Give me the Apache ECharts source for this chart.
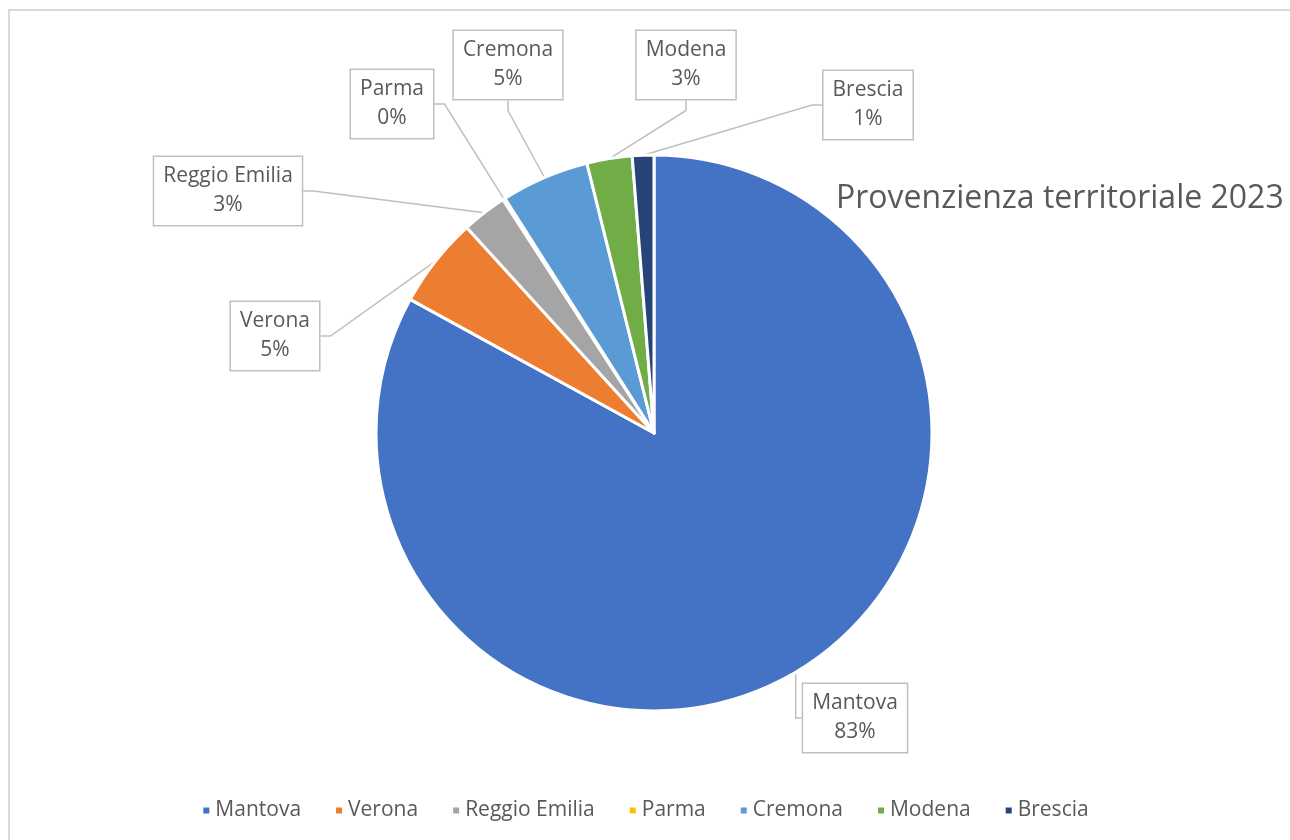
<!DOCTYPE html>
<html>
<head>
<meta charset="utf-8">
<script src="https://cdn.jsdelivr.net/npm/echarts@6/dist/echarts.min.js"></script>
<style>
  html, body { margin: 0; padding: 0; background: #fff; overflow: hidden; }
  #frame {
    position: absolute; left: 8px; top: 9px;
    width: 1400px; height: 1000px;
    border: 2px solid #d9d9d9;
  }
  #chart { position: absolute; left: 0; top: 0; width: 1290px; height: 840px; }
</style>
</head>
<body>
<div id="frame"></div>
<div id="chart"></div>
<script>
// data
const provinces = ['Mantova', 'Verona', 'Reggio Emilia', 'Parma', 'Cremona', 'Modena', 'Brescia'];
const counts = [663, 42, 21, 1, 41, 21, 10];

const sliceColors = [
  '#4472c4', // Mantova
  '#ed7d31', // Verona
  '#a5a5a5', // Reggio Emilia
  '#ffc000', // Parma
  '#5b9bd5', // Cremona
  '#70ad47', // Modena
  '#264478'  // Brescia
];

// callout box centres, as placed in the original
const labelAt = [
  [855, 718],
  [275, 336],
  [228, 191],
  [392, 104],
  [508, 65],
  [686, 65],
  [868, 105]
];

const textGray = '#595959';
const chartFont = 'Open Sans';

const chart = echarts.init(document.getElementById('chart'));

const option = {
  color: sliceColors,
  animation: false,
  title: {
    text: 'Provenzienza territoriale 2023',
    left: 831,
    top: 178,
    textStyle: {
      color: textGray,
      fontSize: 32,
      fontWeight: 'normal',
      fontFamily: chartFont
    }
  },
  legend: {
    bottom: 14,
    left: 'center',
    icon: 'rect',
    itemWidth: 8,
    itemHeight: 8,
    itemGap: 33,
    textStyle: {
      color: textGray,
      fontSize: 21,
      fontFamily: chartFont
    },
    data: provinces
  },
  series: [
    {
      type: 'pie',
      center: [654, 433],
      radius: 278,
      startAngle: 90,
      clockwise: true,
      avoidLabelOverlap: false,
      data: provinces.map((name, i) => ({ name: name, value: counts[i] })),
      itemStyle: {
        borderColor: '#fff',
        borderWidth: 3
      },
      label: {
        show: true,
        position: 'outside',
        formatter: p => p.name + '\n' + Math.round(p.percent) + '%',
        color: textGray,
        fontSize: 21,
        fontFamily: chartFont,
        lineHeight: 29,
        align: 'center',
        backgroundColor: '#fff',
        borderColor: '#bfbfbf',
        borderWidth: 1.5,
        padding: [8, 9, 2, 9]
      },
      labelLine: {
        show: true,
        length: 20,
        length2: 10,
        lineStyle: {
          color: '#bfbfbf',
          width: 1.5
        }
      },
      labelLayout: function (params) {
        const pos = labelAt[params.dataIndex];
        return {
          x: pos[0],
          y: pos[1],
          align: 'center',
          verticalAlign: 'middle'
        };
      }
    }
  ]
};

chart.setOption(option);
</script>
</body>
</html>
